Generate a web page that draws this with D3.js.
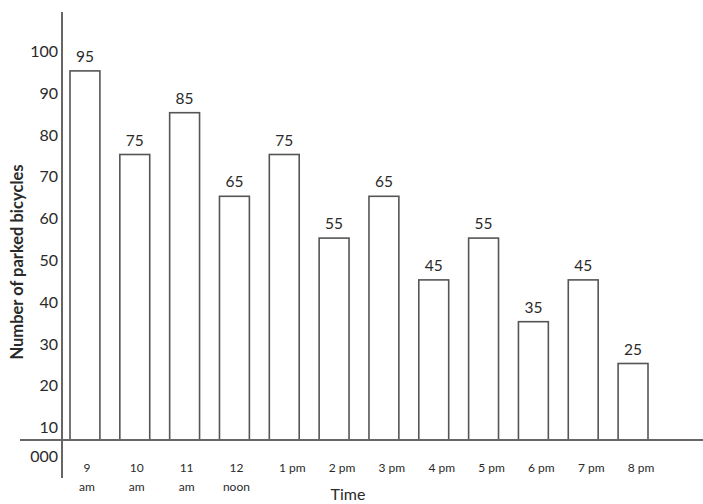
<!DOCTYPE html>
<html lang="en">
<head>
  <meta charset="UTF-8">
  <title>parked bicycles</title>
  <style>
    body { margin: 0; background: #fff; }
    text { font-family: Lato, "Open Sans", sans-serif; fill: #2a2a2a; }
  </style>
</head>
<body>
<script src="https://cdn.jsdelivr.net/npm/d3@7"></script>
<script>
  var times = ['9 am', '10 am', '11 am', '12 noon', '1 pm', '2 pm', '3 pm', '4 pm', '5 pm', '6 pm', '7 pm', '8 pm']
  var bicycles = [95, 75, 85, 65, 75, 55, 65, 45, 55, 35, 45, 25]
  var yTicks = [10, 20, 30, 40, 50, 60, 70, 80, 90, 100]
  // two line labels for the morning / noon slots
  var timeLines = [['9', 'am'], ['10', 'am'], ['11', 'am'], ['12', 'noon'], ['1 pm'], ['2 pm'], ['3 pm'], ['4 pm'], ['5 pm'], ['6 pm'], ['7 pm'], ['8 pm']]

  var width = 703
  var height = 504
  var axisX = 62   // where the y axis is drawn
  var baseY = 440  // where the x axis is drawn

  var svg = d3.select('body').append('svg')
    .attr('width', width)
    .attr('height', height)

  var x = d3.scaleBand()
    .domain(times)
    .range([70, 648])
    .paddingInner(0.4)
    .paddingOuter(0)
  var y = d3.scaleLinear()
    .domain([0, 100])
    .range([468, 50])

  // bars
  svg.append('g').selectAll('rect')
    .data(bicycles)
    .enter()
    .append('rect')
    .attr('x', (d, i) => x(times[i]))
    .attr('y', d => y(d))
    .attr('width', x.bandwidth())
    .attr('height', d => baseY - y(d))
    .attr('fill', '#fff')
    .attr('stroke', '#555')
    .attr('stroke-width', 1.6)

  // value labels
  svg.append('g').selectAll('text')
    .data(bicycles)
    .enter()
    .append('text')
    .attr('x', (d, i) => x(times[i]) + x.bandwidth() / 2)
    .attr('y', d => y(d) - 9)
    .attr('text-anchor', 'middle')
    .style('font-size', '15.5px')
    .text(d => d)

  // axes lines
  svg.append('line')
    .attr('x1', axisX).attr('x2', axisX)
    .attr('y1', 12).attr('y2', 478)
    .attr('stroke', '#666').attr('stroke-width', 2)
  svg.append('line')
    .attr('x1', 20).attr('x2', width)
    .attr('y1', baseY).attr('y2', baseY)
    .attr('stroke', '#666').attr('stroke-width', 2)

  // y tick labels via axis generator, domain/ticks hidden
  var yAxis = d3.axisLeft(y).tickValues(yTicks).tickSize(0).tickPadding(4)
  var gy = svg.append('g')
    .attr('transform', `translate(${axisX},0)`)
    .call(yAxis)
  gy.select('.domain').remove()
  gy.selectAll('text')
    .style('font-size', '16px')
    .style('font-family', 'Lato, sans-serif')
    .attr('fill', '#2a2a2a')
    .attr('dy', '0.4em')

  svg.append('text')
    .attr('x', axisX - 4)
    .attr('y', baseY + 22)
    .attr('text-anchor', 'end')
    .style('font-size', '16px')
    .text('000')

  // x labels
  var xl = svg.append('g').selectAll('text')
    .data(timeLines)
    .enter()
    .append('text')
    .attr('x', (d, i) => x(times[i]) + x.bandwidth() / 2 + (d.length > 1 ? 2 : 8))
    .attr('y', baseY + 32)
    .attr('text-anchor', 'middle')
    .style('font-size', '12px')
  xl.selectAll('tspan')
    .data(d => d)
    .enter()
    .append('tspan')
    .attr('x', function () { return d3.select(this.parentNode).attr('x') })
    .attr('dy', (d, i) => i ? 19 : 0)
    .text(d => d)

  svg.append('text')
    .attr('x', 348)
    .attr('y', 500)
    .attr('text-anchor', 'middle')
    .style('font-size', '16px')
    .text('Time')

  svg.append('text')
    .attr('transform', 'translate(23,262) rotate(-90)')
    .attr('text-anchor', 'middle')
    .style('font-size', '16.5px')
    .style('font-weight', 'bold')
    .text('Number of parked bicycles')
</script>
</body>
</html>
